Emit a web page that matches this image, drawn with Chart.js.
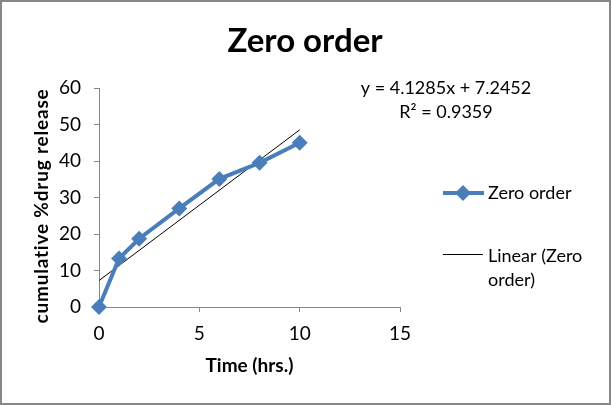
<!DOCTYPE html>
<html>
<head>
<meta charset="utf-8">
<script src="https://cdn.jsdelivr.net/npm/chart.js@4"></script>
<style>
  html, body { margin: 0; padding: 0; background: #fff; }
  #wrap { position: relative; width: 611px; height: 405px; }
  #frame { position: absolute; left: 0; top: 0; width: 611px; height: 405px; box-sizing: border-box; border: 2px solid #878787; pointer-events: none; }
  canvas { position: absolute; left: 0; top: 0; }
</style>
</head>
<body>
<div id="wrap">
  <canvas id="c" width="611" height="405"></canvas>
  <div id="frame"></div>
</div>
<script>
const timeHrs = [0, 1, 2, 4, 6, 8, 10];
const releasePct = [0, 13.3, 18.7, 27.0, 35.1, 39.5, 45.0];
const trendSlope = 4.1285;
const trendIntercept = 7.2452;
const trendR2 = 0.9359;
const trendRange = [0, 10];
const xTicks = [0, 5, 10, 15];
const yTicks = [0, 10, 20, 30, 40, 50, 60];
const chartTitle = 'Zero order';
const xTitle = 'Time (hrs.)';
const yTitle = 'cumulative %drug release';

const FONT = "Lato, 'Open Sans', sans-serif";
const BLUE = '#4A7EBB';

const mainData = timeHrs.map((t, i) => ({ x: t, y: releasePct[i] }));
const trendData = trendRange.map(t => ({ x: t, y: trendSlope * t + trendIntercept }));

const overlayPlugin = {
  id: 'overlay',
  afterDraw(chart) {
    const ctx = chart.ctx;
    const area = chart.chartArea;
    ctx.save();
    ctx.fillStyle = '#000';
    // title
    ctx.font = 'bold 33px ' + FONT;
    ctx.textAlign = 'center';
    ctx.textBaseline = 'alphabetic';
    ctx.fillText(chartTitle, 305, 52);

    // axis titles
    ctx.font = 'bold 19px ' + FONT;
    ctx.textBaseline = 'middle';
    ctx.fillText(xTitle, (area.left + area.right) / 2, 366);
    ctx.save();
    ctx.translate(42, 206);
    ctx.rotate(-Math.PI / 2);
    ctx.font = 'bold 19px ' + FONT;
    ctx.letterSpacing = '0.8px';
    ctx.fillText(yTitle, 0, 0);
    ctx.restore();

    // equation
    ctx.font = '18px ' + FONT;
    ctx.textAlign = 'center';
    ctx.textBaseline = 'middle';
    ctx.fillText('y = ' + trendSlope + 'x + ' + trendIntercept, 446, 88);
    ctx.fillText('R\u00B2 = ' + trendR2, 446, 112);

    // legend
    ctx.textAlign = 'left';
    ctx.strokeStyle = BLUE;
    ctx.lineWidth = 4;
    ctx.beginPath(); ctx.moveTo(443, 193); ctx.lineTo(484, 193); ctx.stroke();
    ctx.fillStyle = BLUE;
    ctx.beginPath();
    ctx.moveTo(463, 185); ctx.lineTo(471, 193); ctx.lineTo(463, 201); ctx.lineTo(455, 193); ctx.closePath();
    ctx.fill();
    ctx.fillStyle = '#000';
    ctx.fillText(chart.data.datasets[0].label, 488, 193);
    ctx.strokeStyle = '#000';
    ctx.lineWidth = 1;
    ctx.beginPath(); ctx.moveTo(443, 254.5); ctx.lineTo(483, 254.5); ctx.stroke();
    ctx.fillText('Linear (Zero', 488, 256);
    ctx.fillText('order)', 488, 280);
    ctx.restore();
  }
};

new Chart(document.getElementById('c'), {
  type: 'scatter',
  data: {
    datasets: [
      {
        label: 'Zero order',
        data: mainData,
        showLine: true,
        clip: false,
        borderColor: BLUE,
        backgroundColor: BLUE,
        borderWidth: 4,
        pointStyle: 'rectRot',
        pointRadius: 8,
        pointHoverRadius: 8,
        pointBorderWidth: 0,
        order: 1
      },
      {
        label: 'Linear (Zero order)',
        data: trendData,
        showLine: true,
        clip: false,
        borderColor: '#000',
        borderWidth: 1,
        pointRadius: 0,
        order: 2
      }
    ]
  },
  options: {
    responsive: false,
    animation: false,
    layout: { padding: { left: 0, right: 211, top: 88, bottom: 0 } },
    plugins: {
      legend: { display: false },
      tooltip: { enabled: false },
      title: { display: false }
    },
    scales: {
      x: {
        type: 'linear',
        min: 0, max: 15,
        afterBuildTicks(scale) { scale.ticks = xTicks.map(v => ({ value: v })); },
        afterFit(scale) { scale.height = 98; },
        grid: { display: true, drawOnChartArea: false, drawTicks: true, tickLength: 5, color: '#878787' },
        border: { display: true, color: '#878787', width: 1 },
        ticks: { color: '#000', font: { family: FONT, size: 19 }, padding: 10 }
      },
      y: {
        type: 'linear',
        min: 0, max: 60,
        afterBuildTicks(scale) { scale.ticks = yTicks.map(v => ({ value: v })); },
        afterFit(scale) { scale.width = 99; },
        grid: { display: true, drawOnChartArea: false, drawTicks: true, tickLength: 5, color: '#878787' },
        border: { display: true, color: '#878787', width: 1 },
        ticks: { color: '#000', font: { family: FONT, size: 19 }, padding: 13 }
      }
    }
  },
  plugins: [overlayPlugin]
});
</script>
</body>
</html>
